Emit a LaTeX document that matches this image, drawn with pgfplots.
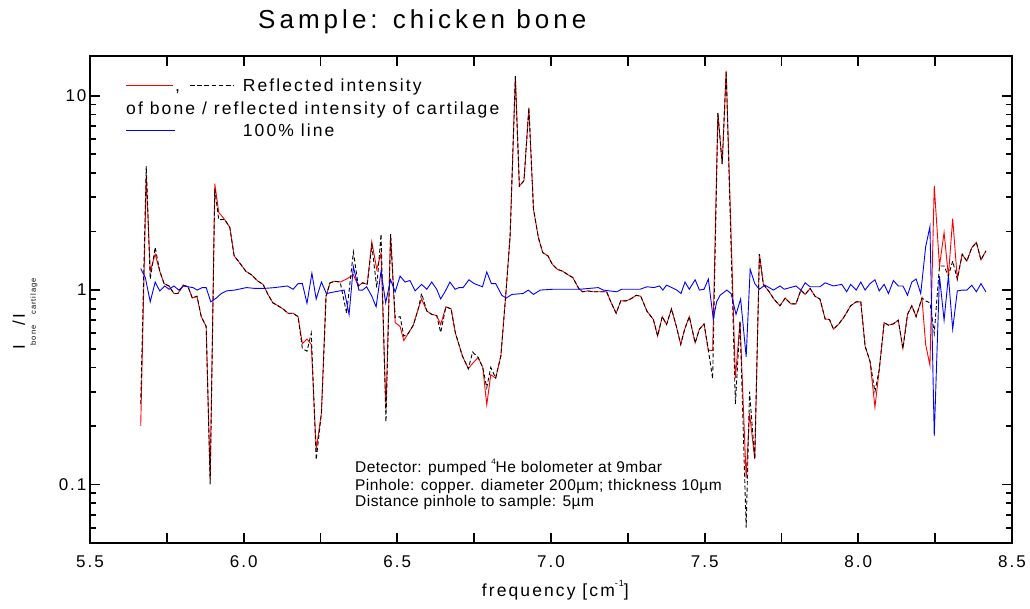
\documentclass[border=0pt]{standalone}
\usepackage{fontspec}
\usepackage{pgfplots}
\pgfplotsset{compat=1.18}
\setmainfont{Liberation Sans}
\newfontfamily\trackA{Liberation Sans}[LetterSpace=12]
\newfontfamily\trackB{Liberation Sans}[LetterSpace=3]
\newfontfamily\trackT{Liberation Sans}[LetterSpace=15.5]
\begin{document}
\begin{tikzpicture}
\useasboundingbox (-90pt,-65pt) rectangle (940pt,543pt);
\begin{axis}[
  at={(0pt,0pt)}, anchor=south west,
  scale only axis, width=922pt, height=487pt,
  xmin=5.5, xmax=8.5, ymin=0.05, ymax=16, ymode=log,
  xtick={5.5,6.0,6.5,7.0,7.5,8.0,8.5},
  extra x ticks={5.75,6.25,6.75,7.25,7.75,8.25},
  extra x tick labels={},
  ytick={0.1,1,10}, yticklabels={0.1,1,10},
  tick align=inside, tick pos=both,
  major tick length=10pt, minor tick length=6pt,
  axis line style={line width=1.6pt},
  tick style={draw=black, line width=1.8pt},
  /pgf/number format/assume math mode=true,
  tick label style={font=\trackA\fontsize{17}{17}\selectfont},
  xticklabel style={yshift=-9pt, /pgf/number format/fixed, /pgf/number format/fixed zerofill, /pgf/number format/precision=1},
]
\addplot[red, line width=0.9pt] coordinates {
(5.665,0.20) (5.683,3.87) (5.696,1.25) (5.712,1.53) (5.727,1.25) (5.741,1.08) (5.757,1.05) (5.773,0.96) (5.786,0.96) (5.803,1.06)
(5.819,1.04) (5.833,0.91) (5.848,0.93) (5.862,0.73) (5.878,0.65) (5.891,0.106) (5.906,3.53) (5.919,2.51) (5.938,2.31) (5.955,2.10)
(5.969,1.50) (5.987,1.38) (6.007,1.25) (6.025,1.20) (6.047,1.11) (6.063,1.07) (6.079,0.95) (6.095,0.86) (6.112,0.83) (6.128,0.80)
(6.144,0.76) (6.161,0.76) (6.177,0.73) (6.191,0.53) (6.206,0.56) (6.220,0.525) (6.236,0.151) (6.253,0.233) (6.268,0.93) (6.281,1.09)
(6.297,1.11) (6.314,1.10) (6.335,1.14) (6.357,1.20) (6.373,1.05) (6.387,1.09) (6.402,1.07) (6.417,1.77) (6.433,1.28) (6.447,1.55)
(6.463,0.243) (6.478,1.94) (6.493,0.68) (6.509,0.65) (6.521,0.55) (6.536,0.60) (6.552,0.66) (6.568,0.80) (6.579,0.90) (6.596,0.78)
(6.612,0.75) (6.628,0.74) (6.641,0.665) (6.658,0.82) (6.675,0.80) (6.689,0.60) (6.712,0.457) (6.731,0.394) (6.745,0.42) (6.763,0.45)
(6.778,0.40) (6.791,0.257) (6.804,0.367) (6.820,0.353) (6.837,0.46) (6.854,1.0) (6.867,1.90) (6.884,12.6) (6.897,3.43) (6.912,3.65)
(6.928,8.67) (6.943,2.61) (6.959,1.86) (6.973,1.56) (6.990,1.50) (7.004,1.36) (7.020,1.28) (7.038,1.25) (7.055,1.20) (7.071,1.16)
(7.090,1.02) (7.103,0.98) (7.119,0.99) (7.138,0.98) (7.160,0.98) (7.181,0.98) (7.196,0.86) (7.212,0.76) (7.227,0.88) (7.244,0.88)
(7.259,0.90) (7.277,0.94) (7.292,0.93) (7.312,0.78) (7.333,0.706) (7.347,0.58) (7.362,0.73) (7.376,0.665) (7.392,0.80) (7.408,0.65)
(7.422,0.525) (7.435,0.63) (7.450,0.73) (7.469,0.535) (7.483,0.63) (7.498,0.67) (7.512,0.49) (7.526,0.49) (7.543,8.14) (7.557,4.45)
(7.570,13.4) (7.600,0.353) (7.615,0.69) (7.635,0.108) (7.646,0.233) (7.663,0.135) (7.678,1.53) (7.691,1.07) (7.708,0.99) (7.725,0.90)
(7.745,0.83) (7.762,0.91) (7.780,0.85) (7.797,0.85) (7.813,1.0) (7.827,0.95) (7.843,1.02) (7.859,0.93) (7.875,0.90) (7.892,0.71)
(7.906,0.706) (7.919,0.63) (7.935,0.665) (7.954,0.73) (7.975,0.83) (7.993,0.87) (8.008,0.87) (8.022,0.515) (8.038,0.43) (8.054,0.25)
(8.068,0.39) (8.084,0.68) (8.098,0.66) (8.114,0.67) (8.130,0.70) (8.145,0.50) (8.160,0.75) (8.174,0.83) (8.188,0.73) (8.207,0.91)
(8.219,0.525) (8.233,0.41) (8.247,3.44) (8.264,1.33) (8.279,1.98) (8.293,1.18) (8.307,2.33) (8.322,1.14) (8.338,1.53) (8.353,1.41)
(8.369,1.65) (8.384,1.76) (8.399,1.43) (8.415,1.59)
};
\addplot[black, line width=0.9pt, dash pattern=on 4pt off 2.5pt] coordinates {
(5.665,0.26) (5.683,4.34) (5.696,1.14) (5.712,1.66) (5.727,1.25) (5.741,1.08) (5.757,1.05) (5.773,0.96) (5.786,0.96) (5.803,1.06)
(5.819,1.04) (5.833,0.91) (5.848,0.93) (5.862,0.73) (5.878,0.65) (5.891,0.100) (5.906,3.30) (5.919,2.30) (5.938,2.31) (5.955,2.10)
(5.969,1.50) (5.987,1.38) (6.007,1.25) (6.025,1.20) (6.047,1.11) (6.063,1.07) (6.079,0.95) (6.095,0.86) (6.112,0.83) (6.128,0.80)
(6.144,0.76) (6.161,0.76) (6.177,0.73) (6.191,0.50) (6.206,0.485) (6.220,0.60) (6.236,0.134) (6.253,0.233) (6.268,0.93) (6.281,1.09)
(6.297,1.11) (6.314,1.10) (6.335,0.76) (6.357,1.57) (6.373,1.05) (6.387,1.09) (6.402,1.07) (6.417,1.70) (6.433,1.03) (6.447,1.94)
(6.463,0.21) (6.478,1.94) (6.493,0.72) (6.509,0.73) (6.521,0.58) (6.536,0.60) (6.552,0.66) (6.568,0.80) (6.579,0.96) (6.596,0.78)
(6.612,0.75) (6.628,0.74) (6.641,0.605) (6.658,0.82) (6.675,0.80) (6.689,0.60) (6.712,0.457) (6.731,0.394) (6.745,0.48) (6.763,0.45)
(6.778,0.40) (6.791,0.315) (6.804,0.40) (6.820,0.353) (6.837,0.46) (6.854,1.0) (6.867,1.90) (6.884,12.6) (6.897,3.43) (6.912,3.65)
(6.928,8.67) (6.943,2.61) (6.959,1.86) (6.973,1.56) (6.990,1.50) (7.004,1.36) (7.020,1.28) (7.038,1.25) (7.055,1.20) (7.071,1.16)
(7.090,1.02) (7.103,0.98) (7.119,0.99) (7.138,0.98) (7.160,0.98) (7.181,0.98) (7.196,0.86) (7.212,0.76) (7.227,0.88) (7.244,0.88)
(7.259,0.90) (7.277,0.94) (7.292,0.93) (7.312,0.78) (7.333,0.706) (7.347,0.58) (7.362,0.73) (7.376,0.665) (7.392,0.80) (7.408,0.65)
(7.422,0.525) (7.435,0.63) (7.450,0.73) (7.469,0.535) (7.483,0.63) (7.498,0.67) (7.512,0.49) (7.526,0.35) (7.543,8.14) (7.557,4.45)
(7.570,13.4) (7.600,0.26) (7.615,0.69) (7.635,0.06) (7.646,0.30) (7.663,0.135) (7.678,1.53) (7.691,1.07) (7.708,0.99) (7.725,0.90)
(7.745,0.83) (7.762,0.91) (7.780,0.85) (7.797,0.85) (7.813,1.0) (7.827,0.95) (7.843,1.02) (7.859,0.93) (7.875,0.90) (7.892,0.71)
(7.906,0.706) (7.919,0.63) (7.935,0.665) (7.954,0.73) (7.975,0.83) (7.993,0.87) (8.008,0.87) (8.022,0.515) (8.038,0.43) (8.054,0.30)
(8.068,0.39) (8.084,0.68) (8.098,0.66) (8.114,0.67) (8.130,0.70) (8.145,0.50) (8.160,0.75) (8.174,0.83) (8.188,0.73) (8.207,0.91)
(8.219,0.88) (8.233,0.86) (8.247,0.60) (8.264,1.33) (8.279,1.33) (8.293,1.18) (8.307,1.41) (8.322,1.14) (8.338,1.53) (8.353,1.41)
(8.369,1.65) (8.384,1.76) (8.399,1.43) (8.415,1.59)
};
\addplot[blue, line width=0.9pt] coordinates {
(5.665,1.29) (5.680,1.16) (5.696,0.87) (5.712,1.10) (5.727,0.99) (5.743,1.05) (5.757,1.01) (5.773,1.05) (5.789,1.00) (5.805,1.05)
(5.819,1.04) (5.835,1.03) (5.849,1.00) (5.865,1.03) (5.878,1.03) (5.893,0.87) (5.911,0.91) (5.927,0.96) (5.944,0.99) (5.971,1.00)
(6.009,1.03) (6.036,1.02) (6.068,1.02) (6.101,1.03) (6.142,1.05) (6.161,1.01) (6.177,1.08) (6.191,1.08) (6.206,0.855) (6.222,1.22)
(6.236,0.90) (6.253,1.10) (6.269,0.96) (6.297,0.98) (6.327,1.00) (6.343,0.75) (6.357,1.32) (6.375,1.00) (6.387,1.00) (6.400,1.04)
(6.417,0.93) (6.431,0.82) (6.447,1.25) (6.462,0.86) (6.478,1.13) (6.493,0.98) (6.509,1.18) (6.525,1.10) (6.541,1.12) (6.558,0.99)
(6.579,1.07) (6.596,1.01) (6.612,1.10) (6.628,1.01) (6.641,0.90) (6.655,0.98) (6.671,1.10) (6.688,1.01) (6.701,1.03) (6.714,1.03)
(6.733,1.13) (6.750,1.08) (6.777,1.04) (6.791,1.24) (6.806,1.08) (6.820,1.08) (6.840,0.94) (6.854,0.91) (6.873,0.95) (6.909,0.96)
(6.926,1.00) (6.943,0.95) (6.965,1.00) (7.007,1.01) (7.094,1.01) (7.154,1.03) (7.170,1.00) (7.214,0.98) (7.230,1.01) (7.290,1.01)
(7.312,1.04) (7.335,1.03) (7.353,1.05) (7.364,1.00) (7.376,1.06) (7.393,1.03) (7.409,1.00) (7.423,0.96) (7.436,1.10) (7.450,1.01)
(7.469,1.13) (7.483,1.00) (7.498,1.01) (7.512,1.14) (7.528,0.71) (7.539,0.87) (7.550,0.94) (7.572,1.00) (7.586,0.96) (7.602,0.75)
(7.617,0.90) (7.635,0.454) (7.648,1.28) (7.663,1.08) (7.678,1.01) (7.696,1.06) (7.724,1.00) (7.745,1.05) (7.759,1.01) (7.797,1.05)
(7.813,1.00) (7.827,1.09) (7.843,1.04) (7.875,1.04) (7.892,1.09) (7.919,1.05) (7.946,1.07) (7.962,0.98) (7.975,1.07) (7.993,1.00)
(8.008,1.10) (8.022,1.00) (8.038,1.08) (8.054,1.13) (8.068,0.99) (8.084,1.07) (8.098,0.96) (8.114,1.12) (8.130,1.05) (8.145,1.05)
(8.160,0.94) (8.174,1.10) (8.188,1.14) (8.203,0.96) (8.219,1.67) (8.233,2.12) (8.247,0.178) (8.264,1.18) (8.279,0.70) (8.293,1.18)
(8.307,0.63) (8.322,0.99) (8.338,1.00) (8.353,1.00) (8.369,1.06) (8.384,0.98) (8.399,1.08) (8.415,0.98)
};
\end{axis}
% overlay axis carrying the short log ticks on left and right
\begin{axis}[
  at={(0pt,0pt)}, anchor=south west,
  scale only axis, width=922pt, height=487pt,
  xmin=5.5, xmax=8.5, ymin=0.05, ymax=16, ymode=log,
  xtick=\empty,
  ytick={0.06,0.07,0.08,0.09,0.2,0.3,0.4,0.5,0.6,0.7,0.8,0.9,2,3,4,5,6,7,8,9},
  yticklabels={,,,,,,,,,,,,,,,,,,,},
  yticklabel style={opacity=0, text opacity=0},
  tick align=inside, tick pos=both,
  major tick length=6pt,
  axis line style={draw=none},
  tick style={draw=black, line width=1.8pt},
]
\addplot[draw=none] coordinates {(6,1)};
\end{axis}
% title
\node[anchor=base west, inner sep=0pt, font=\trackT\fontsize{26}{26}\selectfont] at (168pt,514pt) {Sample: chicken bone};
% legend
\draw[red, line width=0.9pt] (36pt,458pt) -- (83.3pt,458pt);
\node[anchor=base west, inner sep=0pt, font=\trackA\fontsize{17.5}{17.5}\selectfont] at (85pt,451.3pt) {,};
\draw[black, line width=0.9pt, dash pattern=on 4.5pt off 2.7pt] (100pt,458pt) -- (143.3pt,458pt);
\node[anchor=base west, inner sep=0pt, font=\trackA\fontsize{17.5}{17.5}\selectfont] at (152.7pt,451.3pt) {Reflected intensity};
\node[anchor=base west, inner sep=0pt, font=\trackA\fontsize{17.5}{17.5}\selectfont] at (36pt,428pt) {of bone / reflected intensity of cartilage};
\draw[blue, line width=0.9pt] (36pt,412.3pt) -- (85pt,412.3pt);
\node[anchor=base west, inner sep=0pt, font=\trackA\fontsize{17.5}{17.5}\selectfont] at (152.7pt,406.3pt) {100\% line};
% annotation
\node[anchor=base west, inner sep=0pt, font=\trackB\fontsize{15.5}{15.5}\selectfont] at (265pt,70.3pt) {Detector: pumped \raisebox{0.55em}{\fontsize{8}{8}\selectfont 4}He bolometer at 9mbar};
\node[anchor=base west, inner sep=0pt, font=\trackB\fontsize{15.5}{15.5}\selectfont] at (265pt,53pt) {Pinhole: copper. diameter 200µm; thickness 10µm};
\node[anchor=base west, inner sep=0pt, font=\trackB\fontsize{15.5}{15.5}\selectfont] at (265pt,37pt) {Distance pinhole to sample: 5µm};
% axis labels
\node[anchor=base west, inner sep=0pt, font=\trackA\fontsize{17.5}{17.5}\selectfont] at (391.7pt,-53pt) {frequency [cm\raisebox{0.55em}{\fontsize{9}{9}\selectfont -1}]};
\node[anchor=base west, inner sep=0pt, rotate=90, font=\trackA\fontsize{17}{17}\selectfont] at (-65pt,193pt) {I\raisebox{-11pt}{\fontsize{7.5}{7.5}\selectfont bone}/I\raisebox{-11pt}{\fontsize{7.5}{7.5}\selectfont cartilage}};
\end{tikzpicture}
\end{document}
